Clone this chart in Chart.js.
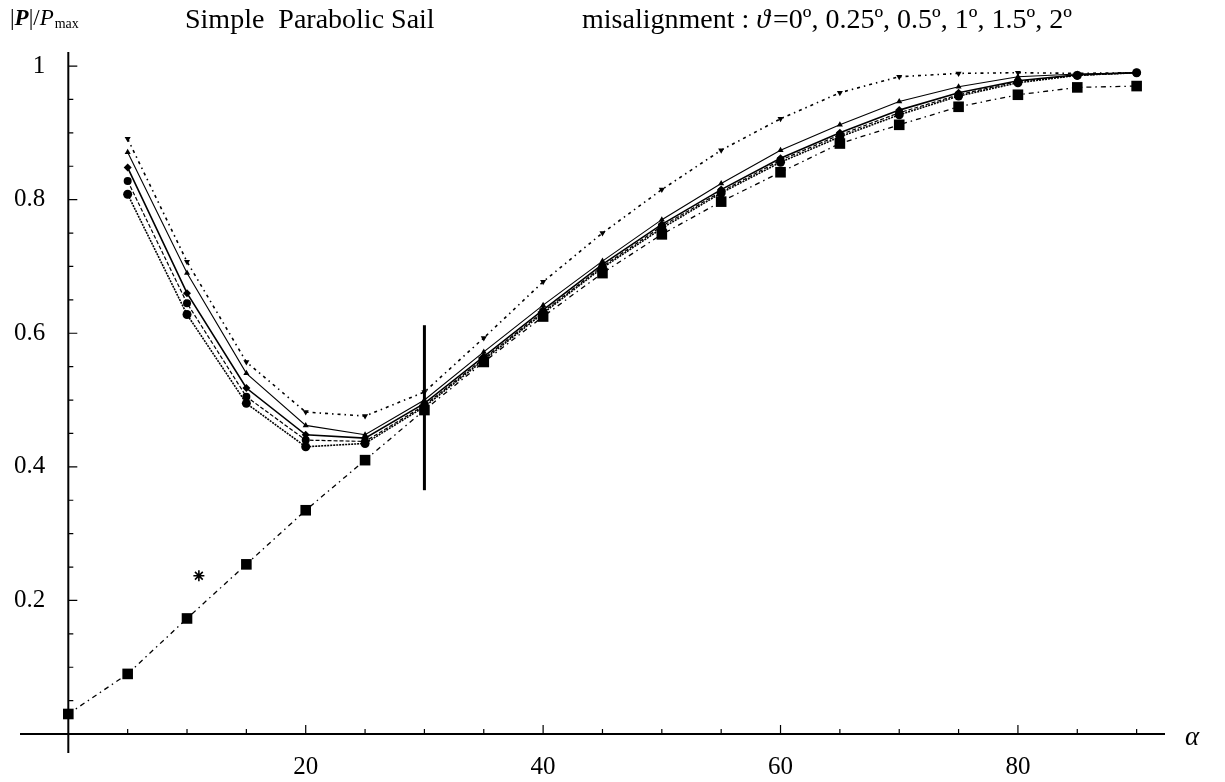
<!DOCTYPE html>
<html>
<head>
<meta charset="utf-8">
<script src="https://cdn.jsdelivr.net/npm/chart.js@4.4.1/dist/chart.umd.min.js"></script>
<style>
  html, body { margin: 0; padding: 0; background: #fff; }
  canvas { display: block; }
</style>
</head>
<body>
<canvas id="sail" width="1225" height="782"></canvas>
<script>
// angle alpha (deg)
const alphaAligned = [0, 5, 10, 15, 20, 25, 30, 35, 40, 45, 50, 55, 60, 65, 70, 75, 80, 85, 90];
const alphaMisaligned = [5, 10, 15, 20, 25, 30, 35, 40, 45, 50, 55, 60, 65, 70, 75, 80, 85, 90];

// |P|/Pmax
const theta0 = [0.03, 0.09, 0.173, 0.254, 0.335, 0.41, 0.485, 0.557, 0.625, 0.69, 0.748, 0.797, 0.841, 0.884, 0.912, 0.939, 0.957, 0.968, 0.97];
const theta025 = [0.808, 0.628, 0.495, 0.43, 0.435, 0.49, 0.56, 0.63, 0.698, 0.757, 0.81, 0.856, 0.894, 0.927, 0.955, 0.975, 0.986, 0.99];
const theta05 = [0.828, 0.645, 0.505, 0.44, 0.438, 0.492, 0.562, 0.632, 0.7, 0.76, 0.812, 0.859, 0.897, 0.93, 0.957, 0.977, 0.986, 0.99];
const theta1 = [0.848, 0.66, 0.518, 0.448, 0.443, 0.495, 0.565, 0.635, 0.703, 0.763, 0.815, 0.862, 0.9, 0.934, 0.96, 0.978, 0.987, 0.99];
const theta15 = [0.871, 0.69, 0.54, 0.462, 0.448, 0.5, 0.572, 0.642, 0.708, 0.77, 0.824, 0.874, 0.912, 0.947, 0.969, 0.984, 0.988, 0.99];
const theta2 = [0.891, 0.707, 0.557, 0.482, 0.476, 0.512, 0.593, 0.677, 0.75, 0.815, 0.874, 0.921, 0.96, 0.984, 0.989, 0.99, 0.989, 0.99];

// lone asterisk point and the vertical bar at alpha = 30
const starAlpha = [11];
const starValue = [0.237];
const barAlpha = [30, 30];
const barValue = [0.365, 0.612];

const xTicks = [20, 40, 60, 80];
const yTicks = [0.2, 0.4, 0.6, 0.8, 1];
const yTickLabels = ['0.2', '0.4', '0.6', '0.8', '1'];

const pts = (xs, ys) => xs.map((x, i) => ({ x: x, y: ys[i] }));

const serif = '"Liberation Serif", "Times New Roman", serif';

// axes drawn through the origin with inward ticks, like the original
const axesPlugin = {
  id: 'axes',
  beforeDatasetsDraw(chart) {
    const { ctx, chartArea: a, scales: { x, y } } = chart;
    const x0 = x.getPixelForValue(0);
    const y0 = y.getPixelForValue(0);
    ctx.save();
    ctx.strokeStyle = '#000';
    ctx.lineWidth = 2;
    ctx.beginPath();
    ctx.moveTo(a.left, y0); ctx.lineTo(a.right, y0);
    ctx.moveTo(x0, a.top); ctx.lineTo(x0, a.bottom);
    ctx.stroke();

    ctx.lineWidth = 1.2;
    ctx.beginPath();
    for (let v = 5; v <= 90; v += 5) {
      const px = x.getPixelForValue(v);
      const len = v % 20 === 0 ? 9 : 5;
      ctx.moveTo(px, y0); ctx.lineTo(px, y0 - len);
    }
    for (let k = 1; k <= 20; k++) {
      const v = k * 0.05;
      const py = y.getPixelForValue(v);
      const len = k % 4 === 0 ? 9 : 5;
      ctx.moveTo(x0, py); ctx.lineTo(x0 + len, py);
    }
    ctx.stroke();

    ctx.fillStyle = '#000';
    ctx.font = '25px ' + serif;
    ctx.textAlign = 'center';
    ctx.textBaseline = 'top';
    xTicks.forEach(v => ctx.fillText(String(v), x.getPixelForValue(v), y0 + 21));
    ctx.textAlign = 'right';
    ctx.textBaseline = 'middle';
    yTicks.forEach((v, i) => ctx.fillText(yTickLabels[i], x0 - 23, y.getPixelForValue(v)));

    ctx.font = 'italic 27px ' + serif;
    ctx.textAlign = 'left';
    ctx.fillText('\u03b1', a.right + 20, y0 + 4);
    ctx.restore();
  },
  afterDraw(chart) {
    const ctx = chart.ctx;
    ctx.save();
    ctx.fillStyle = '#000';
    ctx.textBaseline = 'alphabetic';
    ctx.textAlign = 'left';
    // |P|/Pmax
    let cx = 10;
    const base = 25;
    const part = (txt, font) => { ctx.font = font; ctx.fillText(txt, cx, base); cx += ctx.measureText(txt).width; };
    part('|', '23px ' + serif);
    part('P', 'bold italic 23px ' + serif);
    part('|/', '23px ' + serif);
    part('P', 'italic 23px ' + serif);
    ctx.font = '14px ' + serif;
    ctx.fillText('max', cx + 1, base + 3);

    ctx.font = '28px ' + serif;
    ctx.fillText('Simple  Parabolic Sail', 185, 28);

    cx = 582;
    const b2 = 28;
    const part2 = (txt, font, gap) => { ctx.font = font; ctx.fillText(txt, cx, b2); cx += ctx.measureText(txt).width + (gap || 0); };
    part2('misalignment : ', '28px ' + serif);
    part2('\u03d1', 'italic 28px ' + serif, 3);
    part2('=0\u00ba, 0.25\u00ba, 0.5\u00ba, 1\u00ba, 1.5\u00ba, 2\u00ba', '28px ' + serif);
    ctx.restore();
  }
};

new Chart(document.getElementById('sail'), {
  type: 'line',
  data: {
    datasets: [
      {
        label: 'theta=0',
        data: pts(alphaAligned, theta0),
        borderColor: '#000', backgroundColor: '#000',
        borderWidth: 1.3, borderDash: [5, 4, 1.5, 4],
        pointStyle: 'rect', pointRadius: 7.5, pointBorderWidth: 0
      },
      {
        label: 'theta=0.25',
        data: pts(alphaMisaligned, theta025),
        borderColor: '#000', backgroundColor: '#000',
        borderWidth: 1.6, borderDash: [2, 1],
        pointStyle: 'circle', pointRadius: 4.5, pointBorderWidth: 0
      },
      {
        label: 'theta=0.5',
        data: pts(alphaMisaligned, theta05),
        borderColor: '#000', backgroundColor: '#000',
        borderWidth: 1.2, borderDash: [4, 2],
        pointStyle: 'circle', pointRadius: 4, pointBorderWidth: 0
      },
      {
        label: 'theta=1',
        data: pts(alphaMisaligned, theta1),
        borderColor: '#000', backgroundColor: '#000',
        borderWidth: 1.6,
        pointStyle: 'rectRot', pointRadius: 4, pointBorderWidth: 0
      },
      {
        label: 'theta=1.5',
        data: pts(alphaMisaligned, theta15),
        borderColor: '#000', backgroundColor: '#000',
        borderWidth: 1.1,
        pointStyle: 'triangle', pointRadius: 3.5, pointBorderWidth: 0
      },
      {
        label: 'theta=2',
        data: pts(alphaMisaligned, theta2),
        borderColor: '#000', backgroundColor: '#000',
        borderWidth: 1.6, borderDash: [3, 4, 1.5, 4],
        pointStyle: 'triangle', pointRotation: 180, pointRadius: 3.5, pointBorderWidth: 0
      },
      {
        label: 'star',
        data: pts(starAlpha, starValue),
        showLine: false,
        borderColor: '#000', backgroundColor: '#000',
        pointStyle: 'star', pointRadius: 5.5, pointBorderWidth: 1.6
      },
      {
        label: 'bar',
        data: pts(barAlpha, barValue),
        borderColor: '#000', borderWidth: 3,
        pointRadius: 0
      }
    ]
  },
  options: {
    responsive: false,
    animation: false,
    layout: { padding: { left: 20, right: 60, top: 52, bottom: 29 } },
    plugins: { legend: { display: false }, tooltip: { enabled: false } },
    elements: { line: { tension: 0 } },
    scales: {
      x: { type: 'linear', min: -4.07, max: 92.39, display: false },
      y: { type: 'linear', min: -0.0284, max: 1.021, display: false }
    }
  },
  plugins: [axesPlugin]
});
</script>
</body>
</html>
